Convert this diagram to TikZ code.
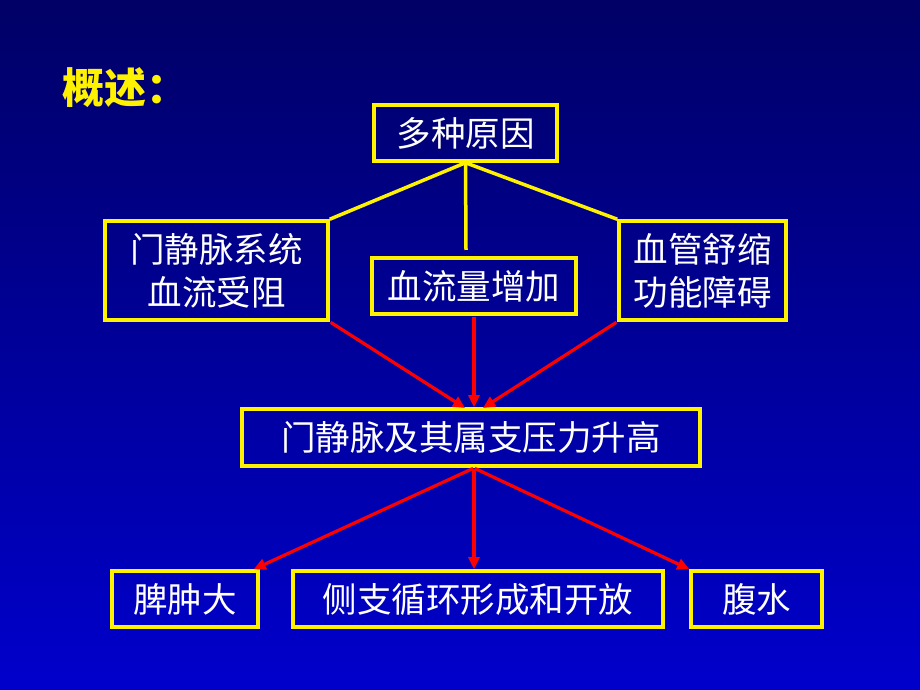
\documentclass[tikz,border=0pt]{standalone}
\usepackage{fontspec}
\newfontfamily\cjk{Noto Sans CJK SC}
\usetikzlibrary{arrows.meta}
\definecolor{bgtop}{RGB}{0,0,102}
\definecolor{bgbottom}{RGB}{0,0,204}
\tikzset{
    box/.style={draw=yellow,line width=3.5pt,text=white,align=center,
        inner sep=0pt,font=\cjk\fontsize{34.5}{43}\selectfont},
    branch/.style={yellow,line width=3.5pt},
    cause/.style={red,line width=3.2pt,-{Triangle[length=12pt,width=11pt]},shorten <=1pt}
}

\begin{document}
\begin{tikzpicture}[x=1pt,y=1pt]
\shade[top color=bgtop,bottom color=bgbottom] (0,0) rectangle (920,690);
\useasboundingbox (0,0) rectangle (920,690);
\node[yellow,font=\cjk\bfseries\fontsize{42}{46}\selectfont] (title) at (125,602) {概述：};
\node[box,minimum width=183pt,minimum height=56pt] (origin) at (465.5,557) {多种原因};
\node[box,minimum width=223pt,minimum height=99pt] (portal) at (216.5,419.5) {门静脉系统\\血流受阻};
\node[box,minimum width=204pt,minimum height=56pt] (flow) at (474,404) {血流量增加};
\node[box,minimum width=167pt,minimum height=99pt] (vessel) at (702.5,419.5) {血管舒缩\\功能障碍};
\node[box,minimum width=458pt,minimum height=57pt] (press) at (471,252.5) {门静脉及其属支压力升高};
\node[box,minimum width=146pt,minimum height=56pt] (spleen) at (185,91) {脾肿大};
\node[box,minimum width=370pt,minimum height=56pt] (collat) at (478,91) {侧支循环形成和开放};
\node[box,minimum width=131pt,minimum height=56pt] (ascites) at (756.5,91) {腹水};
% causes
\coordinate (stem) at (466,440);
\draw[branch] (origin.south) -- (portal.north east);
\draw[branch] (origin.south) -- (stem);
\draw[branch] (origin.south) -- (vessel.north west);
% into the pressure box
\coordinate (inl) at (465,282);
\coordinate (inr) at (483,282);
\draw[cause] (portal.south east) -- (inl);
\draw[cause] (flow.south) -- (flow.south |- press.north);
\draw[cause] (vessel.south west) -- (inr);
% results
\coordinate (outc) at (474,222);
\draw[cause] (outc) -- ([xshift=-6pt]spleen.north east);
\draw[cause] (outc) -- (outc |- collat.north);
\draw[cause] (outc) -- (ascites.north west);
\end{tikzpicture}
\end{document}
